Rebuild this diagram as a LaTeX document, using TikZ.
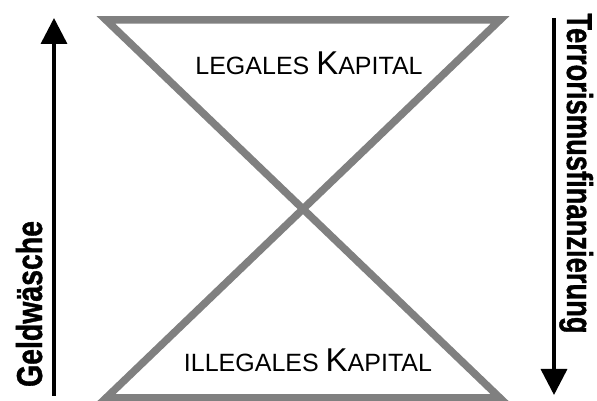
\documentclass[tikz,border=0pt]{standalone}
\usepackage{fontspec}
\setmainfont{Liberation Sans}
\newfontfamily\heavyfont[FakeBold=1.2]{Liberation Sans Bold}
\usetikzlibrary{arrows.meta}

\newcommand{\kapital}[1]{{\fontsize{25}{28}\selectfont #1\fontsize{33}{36}\selectfont K\fontsize{25}{28}\selectfont APITAL}}

\begin{document}
\begin{tikzpicture}[x=1pt, y=1pt,
    glass/.style={draw=black!50, line width=7.5pt},
    arr/.style={-{Triangle[length=26pt, width=26pt]}, line width=3.5pt},
    sidelabel/.style={font=\heavyfont\fontsize{36}{40}\selectfont, anchor=base, inner sep=0pt},
    kap/.style={anchor=base, inner sep=0pt}
]
\useasboundingbox (0,0) rectangle (597,401);

% hourglass
\coordinate (tl) at (106,381);
\coordinate (tr) at (500,381);
\coordinate (c) at (303,192);
\coordinate (bl) at (106,3);
\coordinate (br) at (500,3);
\draw[glass] (tl) -- (tr) -- (c) -- cycle;
\draw[glass] (bl) -- (br) -- (c) -- cycle;

\node[kap] (legal) at (309,326) {\kapital{LEGALES }};
\node[kap] (illegal) at (308,29) {\kapital{ILLEGALES }};

% left: up
\coordinate (gwfrom) at (54,5);
\coordinate (gwto) at (54,383);
\draw[arr] (gwfrom) -- (gwto);
\node[sidelabel, rotate=90] (gw) at (42,97) {\scalebox{0.79}[1]{Geldwäsche}};

% right: down
\coordinate (tffrom) at (554,383);
\coordinate (tfto) at (554,6);
\draw[arr] (tffrom) -- (tfto);
\node[sidelabel, rotate=-90] (tf) at (567,227.5) {\scalebox{0.76}[1]{Terrorismusfinanzierung}};
\end{tikzpicture}
\end{document}
